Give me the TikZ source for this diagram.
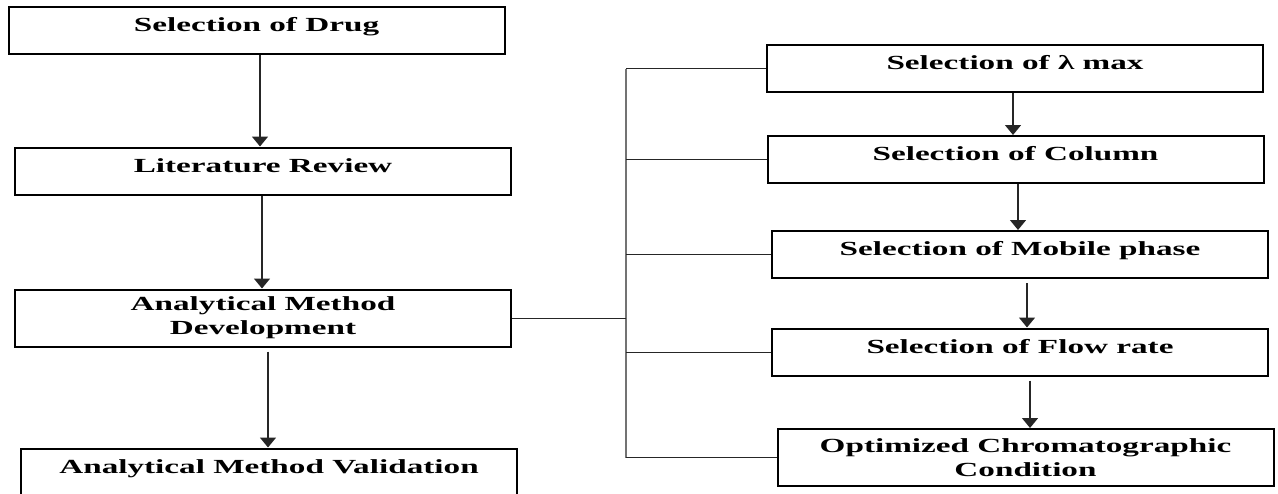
\documentclass[tikz,border=0pt]{standalone}
\usepackage{fontspec}
\newfontfamily\boxfont{Liberation Serif}[FakeStretch=1.66]
\usetikzlibrary{arrows.meta, positioning, calc}
\tikzset{
  base/.style = {draw=black, fill=white, line width=1pt, inner sep=0pt,
    minimum width=248pt, font=\boxfont\bfseries\fontsize{10pt}{12pt}\selectfont},
  bx/.style = {base, minimum height=23.5pt, text height=7pt, text depth=6pt},
  bxt/.style = {base, minimum height=28.5pt, align=center},
  arr/.style = {-{Triangle[width=8pt,length=5pt]}, line width=0.7pt, draw=black!85},
  ln/.style = {line width=0.5pt, draw=black!85},
  bar/.style = {line width=0.8pt, draw=black!55}
}

\begin{document}
\begin{tikzpicture}[x=0.5pt, y=-0.5pt]
  \clip (0,0) rectangle (1278,493);
  \fill [white] (0,0) rectangle (1278,493);
  % main column
  \node [bx] (drug) at (256.5,30.5) {Selection of Drug};
  \node [bx] (lit) at (263,171) {Literature Review};
  \node [bxt] (dev) at (263,318) {Analytical Method\\Development};
  \node [bx] (val) at (269,472) {Analytical Method Validation};
  % development steps
  \node [bx] (lam) at (1015,68.5) {Selection of λ max};
  \node [bx] (col) at (1015.5,159.5) {Selection of Column};
  \node [bx] (mob) at (1020,254.5) {Selection of Mobile phase};
  \node [bx] (flow) at (1020,352) {Selection of Flow rate};
  \node [bxt] (opt) at (1025.5,457.5) {Optimized Chromatographic\\Condition};
  % arrows
  \draw [arr] ($(drug.south)+(3.5,0)$) -- ($(lit.north)-(3,0)$);
  \draw [arr] ($(lit.south)-(1,0)$) -- ($(dev.north)-(1,0)$);
  \draw [arr] ($(dev.south)+(5,4)$) -- ($(val.north)-(1,0)$);
  \draw [arr] ($(lam.south)-(2,0)$) -- ($(col.north)-(2.5,0)$);
  \draw [arr] ($(col.south)+(2.5,0)$) -- ($(mob.north)-(2,0)$);
  \draw [arr] ($(mob.south)+(7,4)$) -- ($(flow.north)+(7,0)$);
  \draw [arr] ($(flow.south)+(10,4)$) -- ($(opt.north)+(4.5,0)$);
  % bracket
  \coordinate (bt) at (626,68.5);
  \coordinate (bb) at (626,458);
  \draw [bar] (bt) -- (bb);
  \draw [ln] (dev.east) -- (dev.east -| bt);
  \draw [ln] (lam.west) -- (lam.west -| bt);
  \draw [ln] (col.west) -- (col.west -| bt);
  \draw [ln] (mob.west) -- (mob.west -| bt);
  \draw [ln] (flow.west) -- (flow.west -| bt);
  \draw [ln] (opt.west) -- (opt.west -| bt);
\end{tikzpicture}
\end{document}
